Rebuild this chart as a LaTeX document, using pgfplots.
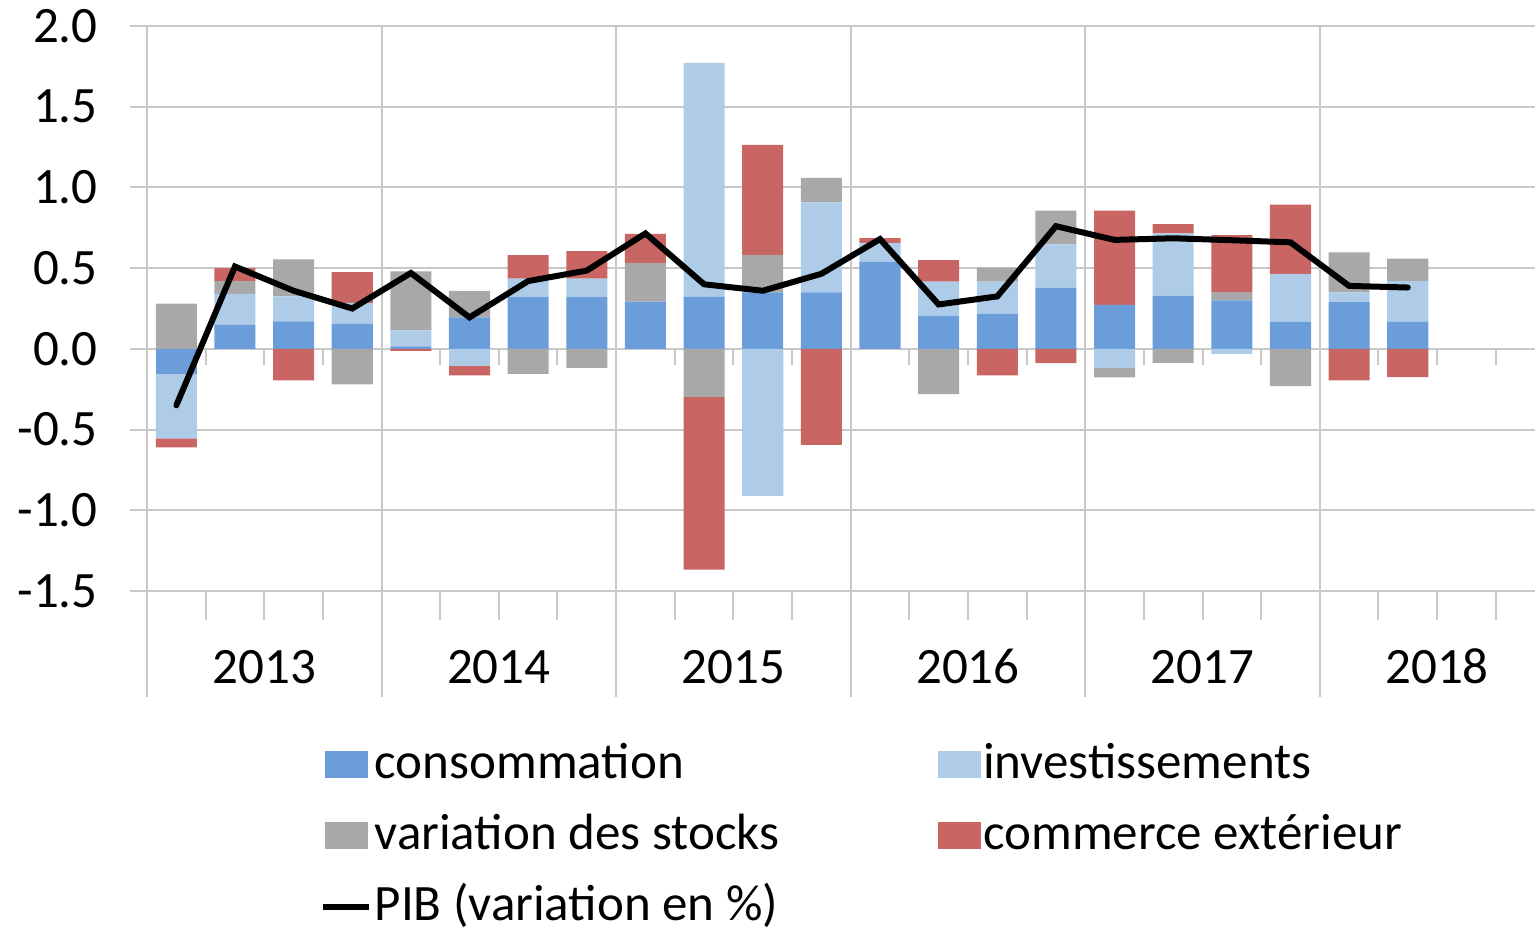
\documentclass[border=0pt]{standalone}
\usepackage{pgfplots}
\pgfplotsset{compat=1.18}
\usepackage{pgfplotstable}
\usepackage{fontspec}
\setmainfont{Carlito}

\definecolor{cons}{RGB}{106,157,218}
\definecolor{inv}{RGB}{174,203,232}
\definecolor{stk}{RGB}{168,168,168}
\definecolor{ext}{RGB}{201,101,98}
\definecolor{gridc}{RGB}{200,200,200}

\newcommand{\cf}{\fontsize{25.5}{30}\selectfont}

% contributions a la croissance du PIB, par trimestre (0 = 2013T1)
\pgfplotstableread{
q   cons    inv     stk     ext     pib
0   -0.155  -0.400  0.280   -0.055  -0.350
1   0.150   0.190   0.080   0.080   0.510
2   0.170   0.155   0.230   -0.195  0.360
3   0.155   0.130   -0.220  0.190   0.250
4   0.015   0.100   0.365   -0.012  0.470
5   0.195   -0.105  0.165   -0.060  0.195
6   0.320   0.115   -0.155  0.145   0.420
7   0.320   0.115   -0.118  0.170   0.485
8   0.293   0.000   0.240   0.180   0.715
9   0.322   1.449   -0.297  -1.071  0.400
10  0.350   -0.910  0.232   0.681   0.360
11  0.350   0.557   0.152   -0.594  0.465
12  0.540   0.116   0.000   0.030   0.680
13  0.206   0.210   -0.280  0.134   0.275
14  0.217   0.200   0.087   -0.165  0.325
15  0.380   0.268   0.208   -0.089  0.760
16  0.272   -0.120  -0.056  0.584   0.675
17  0.330   0.386   -0.087  0.056   0.685
18  0.300   -0.031  0.052   0.353   0.673
19  0.167   0.297   -0.231  0.430   0.660
20  0.290   0.060   0.248   -0.195  0.390
21  0.167   0.252   0.140   -0.175  0.380
}\contrib

\pgfplotsset{
  frame/.style={
    scale only axis, width=694pt, height=282.5pt,
    at={(0pt,0pt)}, anchor=south west,
    xmin=-0.5, xmax=23.17, ymin=-1.5, ymax=2,
  },
  seg/.style={fill=#1, draw=none,
    legend image code/.code={\fill[##1, draw=none] (0pt,-6.75pt) rectangle (21.5pt,6.75pt);}},
  pibleg/.style={legend image code/.code={\draw[##1] (-1pt,0pt) -- (22pt,0pt);}},
}

\begin{document}
\begin{tikzpicture}
% positive parts, grid, ticks, legend
\begin{axis}[frame,
  ybar stacked, bar width=0.7,
  axis lines*=left,
  axis line style={draw=gridc, line width=1pt},
  tick align=outside,
  major tick length=8.5pt, minor tick length=14.5pt,
  major tick style={draw=gridc, line width=1pt},
  minor tick style={draw=gridc, line width=1pt},
  major x tick style={draw=none},
  ymajorgrids, grid style={draw=gridc, line width=1pt},
  ytick={-1.5,-1,-0.5,0,0.5,1,1.5,2},
  scaled y ticks=false,
  yticklabel style={/pgf/number format/fixed, /pgf/number format/fixed zerofill,
    /pgf/number format/precision=1, /pgf/number format/assume math mode=true,
    anchor=east, inner sep=0pt, xshift=-16pt, font=\cf},
  xtick={1.5,5.5,9.5,13.5,17.5,21.5},
  xticklabels={2013,2014,2015,2016,2017,2018},
  xticklabel style={anchor=base, inner sep=0pt, yshift=-37.5pt, font=\cf},
  minor xtick={0.5,1.5,2.5,4.5,5.5,6.5,8.5,9.5,10.5,12.5,13.5,14.5,16.5,17.5,18.5,20.5,21.5,22.5},
  extra x ticks={-0.5,3.5,7.5,11.5,15.5,19.5},
  extra x tick labels={},
  extra x tick style={grid=major},
  legend columns=2,
  legend cell align=left,
  legend style={draw=none, fill=none, inner sep=0pt,
    at={(0.1246,-0.2708)}, anchor=north west, font=\cf, row sep=15pt,
    nodes={inner sep=0pt, text height=17pt, text depth=3.5pt},
    /tikz/every odd column/.append style={column sep=1.2pt},
    /tikz/every even column/.append style={column sep=79.3pt}},
]
  \addplot[seg=cons] table[x=q, y expr={max(\thisrow{cons},0)}] {\contrib};
  \addlegendentry{consommation}
  \addplot[seg=inv] table[x=q, y expr={max(\thisrow{inv},0)}] {\contrib};
  \addlegendentry{investissements}
  \addplot[seg=stk] table[x=q, y expr={max(\thisrow{stk},0)}] {\contrib};
  \addlegendentry{variation des stocks}
  \addplot[seg=ext] table[x=q, y expr={max(\thisrow{ext},0)}] {\contrib};
  \addlegendentry{commerce extérieur}
  \addlegendimage{black, line width=3pt, pibleg}
  \addlegendentry{PIB (variation en \%)}
\end{axis}
% negative parts, stacked downwards from zero
\begin{axis}[frame, hide axis, ybar stacked, bar width=0.7]
  \addplot[seg=cons] table[x=q, y expr={min(\thisrow{cons},0)}] {\contrib};
  \addplot[seg=inv] table[x=q, y expr={min(\thisrow{inv},0)}] {\contrib};
  \addplot[seg=stk] table[x=q, y expr={min(\thisrow{stk},0)}] {\contrib};
  \addplot[seg=ext] table[x=q, y expr={min(\thisrow{ext},0)}] {\contrib};
\end{axis}
% PIB line and tick stubs
\begin{axis}[frame, hide axis, clip=false]
  \pgfplotsinvokeforeach{0.5,1.5,...,22.5}{
    \draw[gridc, line width=1pt] (axis cs:#1,0) -- ++(0pt,-8pt);
  }
  \pgfplotsinvokeforeach{-0.5,3.5,7.5,11.5,15.5,19.5}{
    \draw[gridc, line width=1pt] (axis cs:#1,-1.5) -- ++(0pt,-53pt);
  }
  \addplot[black, line width=3pt, line cap=round, line join=miter, mark=none]
    table[x=q, y=pib] {\contrib};
\end{axis}
\pgfresetboundingbox
\path (-73.5pt,295.5pt) rectangle (694pt,-168pt);
\end{tikzpicture}
\end{document}
